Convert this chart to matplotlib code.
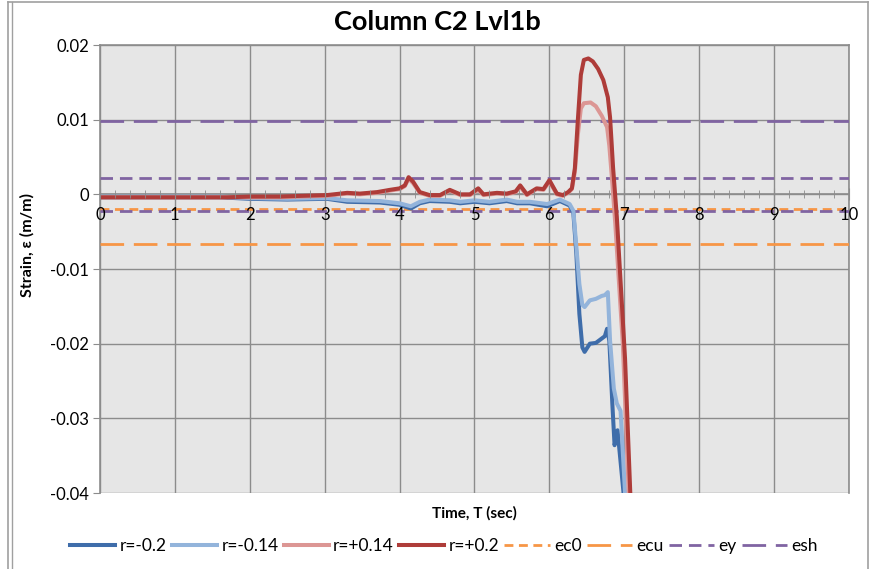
import matplotlib
matplotlib.use("Agg")
import matplotlib.pyplot as plt
from matplotlib.lines import Line2D
import numpy as np

plt.rcParams['font.family'] = ['Lato', 'DejaVu Sans']

# ---------------- data ----------------
t_p20 = [0, 1.0, 1.7, 2.0, 2.4, 2.7, 3.03, 3.3, 3.47, 3.7, 3.87, 4.0, 4.07, 4.12, 4.18, 4.27,
         4.4, 4.54, 4.67, 4.81, 4.94, 5.05, 5.12, 5.3, 5.43, 5.55, 5.61, 5.7, 5.83, 5.92,
         6.0, 6.1, 6.18, 6.25, 6.30, 6.34, 6.38, 6.42, 6.46, 6.52, 6.58, 6.65, 6.72, 6.78,
         6.81, 6.83, 6.85, 6.90, 7.01, 7.08, 7.10]
v_p20 = [-0.0004, -0.0004, -0.0004, -0.0003, -0.0003, -0.0002, -0.0001, 0.0002, 0.0001, 0.0003,
         0.0006, 0.0008, 0.0012, 0.0023, 0.0017, 0.0003, -0.0001, -0.0001, 0.0006, 0.0000,
         0.0000, 0.0008, 0.0000, 0.0002, 0.0001, 0.0004, 0.0012, 0.0000, 0.0008, 0.0007,
         0.0019, 0.0001, -0.0001, 0.0003, 0.0008, 0.0035, 0.0100, 0.0160, 0.0180, 0.0182,
         0.0178, 0.0168, 0.0153, 0.0130, 0.0103, 0.0070, 0.0036, -0.0030, -0.0220, -0.0400, -0.0445]

t_p14 = [0, 1.0, 1.7, 2.0, 2.4, 2.7, 3.03, 3.3, 3.47, 3.7, 3.87, 4.0, 4.07, 4.12, 4.18, 4.27,
         4.4, 4.54, 4.67, 4.81, 4.94, 5.05, 5.12, 5.3, 5.43, 5.55, 5.61, 5.7, 5.83, 5.92,
         6.0, 6.1, 6.18, 6.25, 6.30, 6.34, 6.38, 6.42, 6.46, 6.55, 6.62, 6.70, 6.77, 6.80,
         6.84, 6.88, 6.98, 7.06, 7.08]
v_p14 = [-0.0004, -0.0004, -0.0004, -0.0004, -0.0004, -0.0003, -0.0002, 0.0001, 0.0000, 0.0002,
         0.0005, 0.0007, 0.0011, 0.0021, 0.0015, 0.0002, -0.0002, -0.0002, 0.0005, -0.0001,
         -0.0001, 0.0006, -0.0001, 0.0001, 0.0000, 0.0003, 0.0010, -0.0001, 0.0007, 0.0006,
         0.0017, 0.0000, -0.0002, 0.0002, 0.0007, 0.0030, 0.0080, 0.0115, 0.0122, 0.0123,
         0.0118, 0.0105, 0.0090, 0.0065, 0.0015, -0.0040, -0.0200, -0.0400, -0.0445]

t_m20 = [0, 1.6, 2.0, 2.5, 3.03, 3.3, 3.74, 4.0, 4.15, 4.27, 4.4, 4.67, 4.81, 5.0, 5.2, 5.43,
         5.57, 5.74, 5.97, 6.14, 6.27, 6.32, 6.36, 6.40, 6.44, 6.47, 6.54, 6.62, 6.70, 6.74,
         6.77, 6.80, 6.84, 6.87, 6.91, 6.99, 7.01]
v_m20 = [-0.0004, -0.0004, -0.0006, -0.0007, -0.0006, -0.0010, -0.0011, -0.0014, -0.0019, -0.0012,
         -0.0009, -0.0010, -0.0012, -0.0010, -0.0012, -0.0009, -0.0012, -0.0012, -0.0016, -0.0009,
         -0.0015, -0.0025, -0.0080, -0.0160, -0.0205, -0.0211, -0.0200, -0.0199, -0.0193, -0.0190,
         -0.0180, -0.0196, -0.0280, -0.0336, -0.0316, -0.0400, -0.0445]

t_m14 = [0, 1.6, 2.0, 2.5, 3.03, 3.3, 3.74, 4.0, 4.15, 4.27, 4.4, 4.67, 4.81, 5.0, 5.2, 5.43,
         5.57, 5.74, 5.97, 6.14, 6.27, 6.32, 6.36, 6.40, 6.44, 6.47, 6.54, 6.62, 6.70, 6.74,
         6.78, 6.81, 6.86, 6.90, 6.95, 7.01, 7.03]
v_m14 = [-0.0003, -0.0003, -0.0005, -0.0006, -0.0005, -0.0008, -0.0009, -0.0012, -0.0016, -0.0010,
         -0.0007, -0.0008, -0.0010, -0.0008, -0.0010, -0.0007, -0.0010, -0.0010, -0.0013, -0.0007,
         -0.0013, -0.0022, -0.0070, -0.0120, -0.0148, -0.0151, -0.0142, -0.0140, -0.0136, -0.0135,
         -0.0131, -0.0196, -0.0260, -0.0280, -0.0290, -0.0400, -0.0445]

ec0 = -0.002
ecu = -0.0066
ey = 0.0022
esh = 0.0098

x_ticks = [0, 1, 2, 3, 4, 5, 6, 7, 8, 9, 10]
y_ticks = [0.02, 0.01, 0, -0.01, -0.02, -0.03, -0.04]
y_tick_labels = ['0.02', '0.01', '0', '-0.01', '-0.02', '-0.03', '-0.04']

# ---------------- figure ----------------
fig = plt.figure(figsize=(8.74, 5.69), dpi=100)
ax = fig.add_axes([100/874, 1-493/569, 749/874, 448/569])
ax.set_facecolor('#E6E6E6')

c_m20 = '#3F6DAA'
c_m14 = '#93B4DB'
c_p14 = '#DC9694'
c_p20 = '#AE3C39'
c_or = '#F79646'
c_pu = '#8064A2'
gc = '#8C8C8C'

# gridlines (drawn manually, below everything)
for xv in x_ticks:
    ax.axvline(xv, color=gc, lw=1.0, zorder=0.6)
for yv in y_ticks:
    ax.axhline(yv, color=gc, lw=1.0, zorder=0.6)

lw = 2.9
ax.plot(t_m20, v_m20, color=c_m20, lw=lw, label='r=-0.2', zorder=2.2)
ax.plot(t_m14, v_m14, color=c_m14, lw=lw, label='r=-0.14', zorder=2.2)
ax.plot(t_p14, v_p14, color=c_p14, lw=lw, label='r=+0.14', zorder=2.2)
ax.plot(t_p20, v_p20, color=c_p20, lw=lw, label='r=+0.2', zorder=2.2)

dlw = 2.0
ax.axhline(ec0, color=c_or, lw=dlw, dashes=(3.2, 2.0), label='ec0', zorder=2.1)
ax.axhline(ecu, color=c_or, lw=dlw, dashes=(8.5, 3.5), label='ecu', zorder=2.1)
ax.axhline(ey, color=c_pu, lw=dlw, dashes=(4.5, 2.5), label='ey', zorder=2.1)
ax.axhline(-ey, color=c_pu, lw=dlw, dashes=(4.5, 2.5), zorder=2.1)
ax.axhline(esh, color=c_pu, lw=dlw, dashes=(8.5, 3.5), label='esh', zorder=2.1)

ax.set_xlim(0, 10)
ax.set_ylim(-0.04, 0.02)
ax.set_xticks(x_ticks)
ax.set_xticklabels([str(v) for v in x_ticks])
ax.set_xticks(np.arange(0, 10.01, 0.2), minor=True)
ax.set_yticks(y_ticks)
ax.set_yticklabels(y_tick_labels)
ax.xaxis.set_zorder(5)
ax.yaxis.set_zorder(5)

ax.spines['bottom'].set_position(('data', 0))
for s in ['left', 'right', 'top', 'bottom']:
    ax.spines[s].set_color(gc)
    ax.spines[s].set_linewidth(1.2)
    ax.spines[s].set_zorder(1.5)

ax.tick_params(axis='x', which='major', direction='inout', length=8, color=gc,
               labelsize=12, pad=5)
ax.tick_params(axis='x', which='minor', direction='inout', length=6, color=gc)
ax.tick_params(axis='y', which='major', direction='out', length=5, color=gc,
               labelsize=12, pad=3)

fig.text(0.5, 1-22/569, 'Column C2 Lvl1b', fontsize=19.5, fontweight='bold',
         ha='center', va='center')
ax.set_ylabel('Strain, ε (m/m)', fontsize=11.5, fontweight='bold')
ax.yaxis.set_label_coords(-0.087, 0.554)
ax.set_xlabel('Time, T (sec)', fontsize=11, fontweight='bold')
ax.xaxis.set_label_coords(0.5, -0.03)

leg = fig.legend(loc='center', bbox_to_anchor=(444/874, 1-546/569), ncol=8, frameon=False,
                 fontsize=12.5, handlelength=2.6, handletextpad=0.25, columnspacing=0.3)

# figure frame
fc = '#A0A0A0'
fig.add_artist(Line2D([8/874, 8/874], [0, 1-2/569], color=fc, lw=1.2))
fig.add_artist(Line2D([12/874, 12/874], [0, 1-2/569], color=fc, lw=1.0))
fig.add_artist(Line2D([8/874, 868/874], [1-2/569, 1-2/569], color=fc, lw=1.2))
fig.add_artist(Line2D([868/874, 868/874], [0, 1-2/569], color=fc, lw=1.2))

fig.savefig('out.png', dpi=100)
